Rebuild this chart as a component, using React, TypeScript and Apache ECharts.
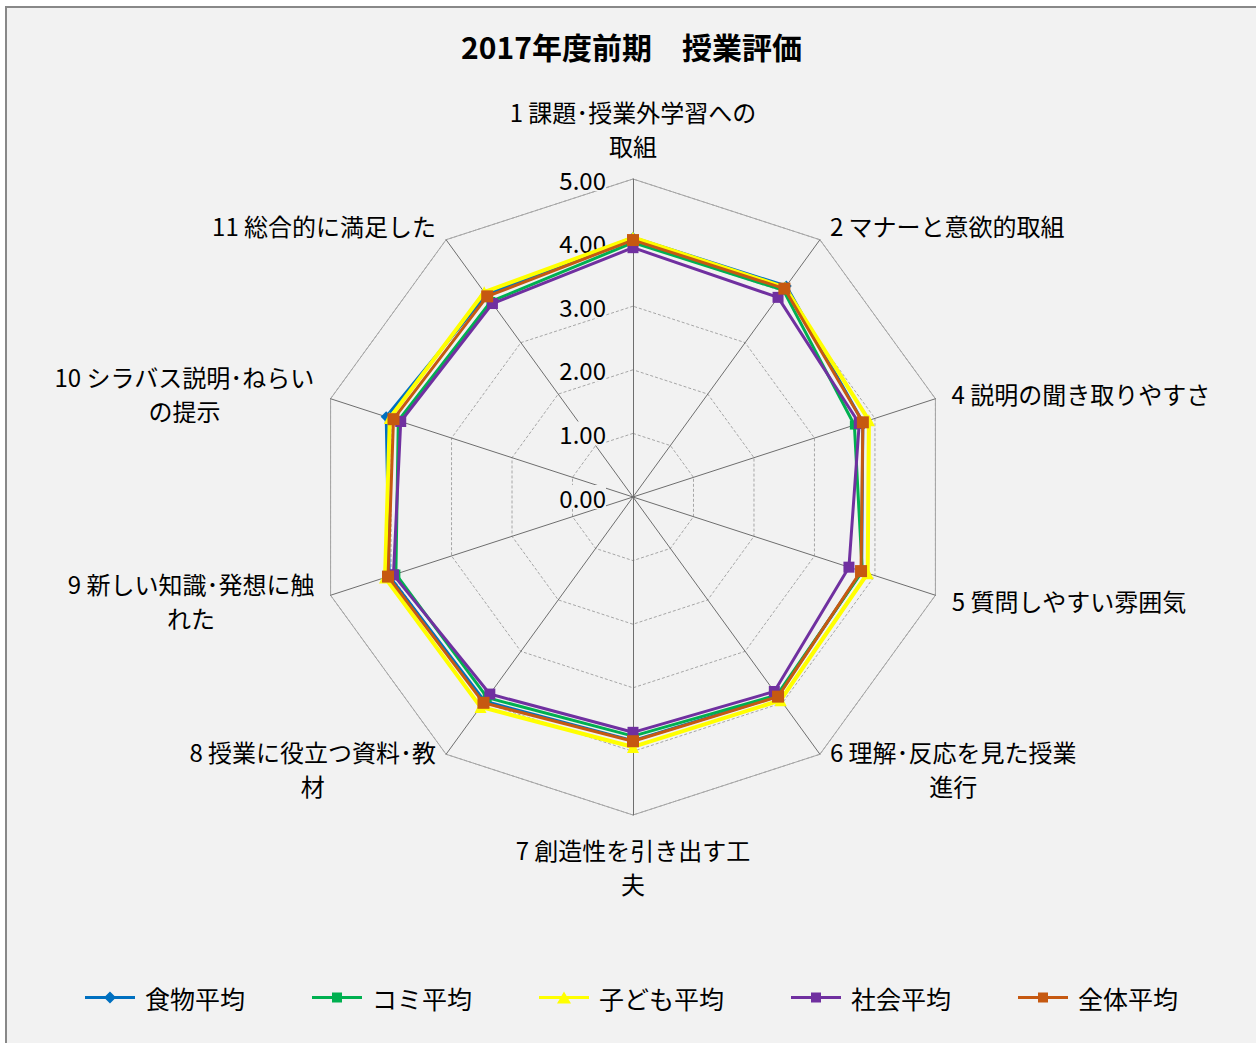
import React, { useEffect, useRef } from "react";
import * as echarts from "echarts";

const indicatorNames = [
  "1 課題･授業外学習への\n取組",
  "2 マナーと意欲的取組",
  "4 説明の聞き取りやすさ",
  "5 質問しやすい雰囲気",
  "6 理解･反応を見た授業\n進行",
  "7 創造性を引き出す工\n夫",
  "8 授業に役立つ資料･教\n材",
  "9 新しい知識･発想に触\nれた",
  "10 シラバス説明･ねらい\nの提示",
  "11 総合的に満足した",
];

const seriesNames = ["食物平均", "コミ平均", "子ども平均", "社会平均", "全体平均"];

const foodAvg = [4.08, 4.1, 3.8, 3.78, 3.87, 3.83, 3.97, 4.03, 4.08, 3.93];
const comiAvg = [4.0, 4.02, 3.66, 3.79, 3.85, 3.76, 3.9, 3.92, 3.88, 3.8];
const kodomoAvg = [4.08, 4.07, 3.9, 3.88, 3.95, 3.93, 4.08, 4.1, 4.02, 3.98];
const shakaiAvg = [3.92, 3.88, 3.74, 3.57, 3.78, 3.7, 3.83, 3.96, 3.84, 3.76];
const zentaiAvg = [4.04, 4.05, 3.8, 3.77, 3.88, 3.84, 4.0, 4.05, 3.96, 3.9];

const axisMin = 0;
const axisMax = 5;
const axisSplit = 5;

const FONT = "'Noto Sans CJK JP', 'Noto Sans', sans-serif";

// ECharts places indicators counter-clockwise; reorder to run clockwise.
const order = [0, ...indicatorNames.map((_, i) => i).slice(1).reverse()];
const reorder = (arr: any[]) => order.map((i) => arr[i]);

const seriesValues = [foodAvg, comiAvg, kodomoAvg, shakaiAvg, zentaiAvg];
const seriesColors = ["#0070C0", "#00B050", "#FFFF00", "#7030A0", "#C65911"];
const seriesSymbols = ["diamond", "rect", "triangle", "rect", "rect"];
const seriesSymbolSizes = [11, 9, 12, 11, 12];
const seriesLineWidths = [3, 3, 4, 3, 3];
const legendIcons = [
  "path://M0,4.5H50V7.5H0Z M25,0L31,6L25,12L19,6Z",
  "path://M0,4.5H50V7.5H0Z M20,1H30V11H20Z M0,0Z M0,12Z",
  "path://M0,4.5H50V7.5H0Z M25,0L32,12L18,12Z",
  "path://M0,4.5H50V7.5H0Z M20,1H30V11H20Z M0,0Z M0,12Z",
  "path://M0,4.5H50V7.5H0Z M20,1H30V11H20Z M0,0Z M0,12Z",
];

const CENTER = [626, 489];
const RADIUS = 318;

export default function App() {
  const ref = useRef<HTMLDivElement>(null);
  useEffect(() => {
    if (!ref.current) return;
    const chart = echarts.init(ref.current, null, { renderer: "svg" });
    const names = reorder(indicatorNames);
    const indicatorsA = names.map((n) => ({ name: n, min: axisMin, max: axisMax }));
    const indicatorsB = names.map((n, i) =>
      i === 0
        ? {
            name: n,
            min: axisMin,
            max: axisMax,
            axisLabel: {
              show: true,
              formatter: (v: number) => v.toFixed(2),
              fontSize: 24,
              fontFamily: FONT,
              color: "#000",
              margin: 27,
              backgroundColor: "#F2F2F2",
            },
          }
        : { name: n, min: axisMin, max: axisMax }
    );
    const option: any = {
      animation: false,
      backgroundColor: "#F2F2F2",
      title: {
        text: "2017年度前期　授業評価",
        left: "center",
        top: 18,
        textStyle: {
          fontFamily: FONT,
          fontSize: 30,
          fontWeight: "bold",
          color: "#000",
        },
      },
      legend: {
        bottom: 28,
        left: "center",
        itemGap: 67,
        itemWidth: 50,
        itemHeight: 12,
        data: seriesNames.map((n, i) => ({ name: n, icon: legendIcons[i] })),
        textStyle: {
          fontFamily: FONT,
          fontSize: 25,
          color: "#000",
          padding: [0, 0, 0, 5],
        },
      },
      radar: [
        {
          center: CENTER,
          radius: RADIUS,
          startAngle: 90,
          splitNumber: axisSplit,
          shape: "polygon",
          indicator: indicatorsA,
          axisName: {
            show: true,
            fontFamily: FONT,
            fontSize: 24,
            color: "#000",
            formatter: (name: string) =>
              name
                .split("\n")
                .map((l) => `{c|${l}}`)
                .join("\n"),
            rich: {
              c: { align: "center", fontFamily: FONT, fontSize: 24, color: "#000", lineHeight: 34 },
            },
          },
          nameGap: 17,
          axisLine: { show: true, lineStyle: { color: "#6E6E6E", width: 1 } },
          axisTick: { show: false },
          axisLabel: { show: false },
          splitLine: {
            show: true,
            lineStyle: { color: "#A6A6A6", width: 1, type: [3, 2] },
          },
          splitArea: { show: false },
        },
        {
          center: CENTER,
          radius: RADIUS,
          startAngle: 90,
          splitNumber: axisSplit,
          shape: "polygon",
          indicator: indicatorsB,
          axisName: { show: false },
          axisLine: { show: false },
          axisTick: { show: false },
          axisLabel: { show: false },
          splitLine: {
            show: true,
            lineStyle: {
              color: ["rgba(0,0,0,0)", "rgba(0,0,0,0)", "rgba(0,0,0,0)", "rgba(0,0,0,0)", "rgba(0,0,0,0)", "#A6A6A6"],
              width: 1,
              type: "solid",
            },
          },
          splitArea: { show: false },
        },
      ],
      series: seriesNames.map((n, i) => ({
        type: "radar",
        name: n,
        radarIndex: 0,
        symbol: seriesSymbols[i],
        symbolSize: seriesSymbolSizes[i],
        itemStyle: { color: seriesColors[i] },
        lineStyle: { color: seriesColors[i], width: seriesLineWidths[i] },
        emphasis: { disabled: true },
        z: 3 + i,
        data: [{ name: n, value: reorder(seriesValues[i]) }],
      })),
    };
    chart.setOption(option);
    return () => chart.dispose();
  }, []);
  return (
    <div
      style={{
        position: "absolute",
        left: 5,
        top: 6,
        width: 1253,
        height: 1039,
        border: "2px solid #888888",
        boxSizing: "border-box",
        background: "#F2F2F2",
      }}
    >
      <div ref={ref} style={{ width: 1249, height: 1035 }} />
    </div>
  );
}
